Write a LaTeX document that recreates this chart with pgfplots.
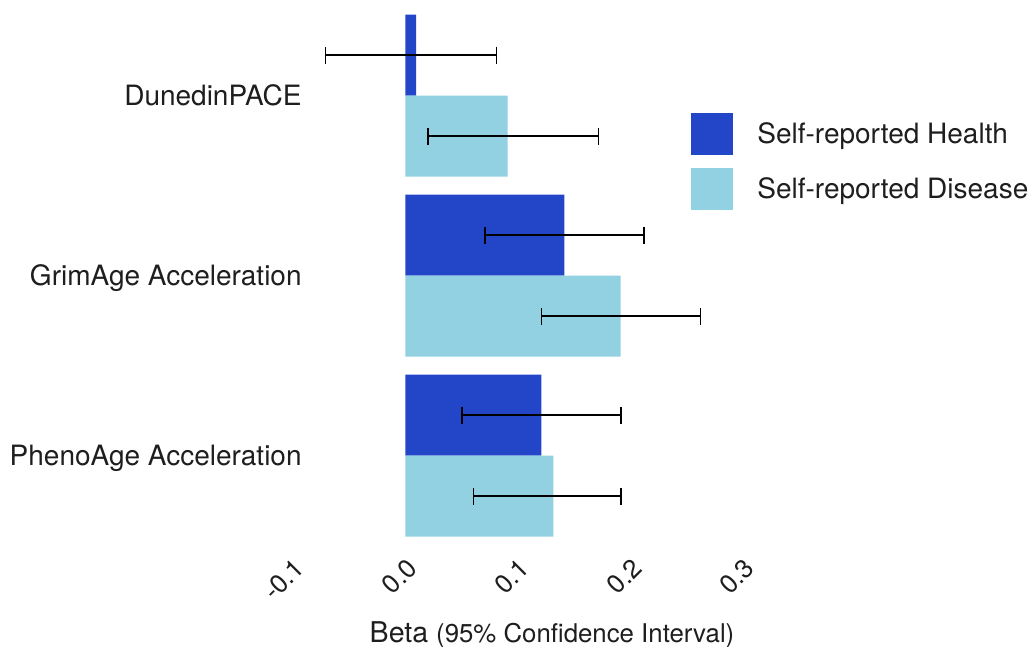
\documentclass[border=0pt]{standalone}
\usepackage{fontspec}
\setmainfont{TeX Gyre Heros}
\usepackage{pgfplots}
\pgfplotsset{compat=1.18}
\definecolor{health}{RGB}{35,69,200}
\definecolor{disease}{RGB}{145,209,225}
\definecolor{txt}{RGB}{30,30,30}
\begin{document}
\begin{tikzpicture}
\begin{axis}[
  name=ax,
  scale only axis,
  width=225pt, height=261pt,
  xmin=-0.1, xmax=0.3,
  ymin=-0.45, ymax=2.45,
  clip=false,
  axis line style={draw=none},
  major tick length=0pt,
  tick style={draw=none},
  xtick={-0.1,0,0.1,0.2,0.3},
  xticklabels={-0.1,0.0,0.1,0.2,0.3},
  ytick={0,1,2},
  yticklabels={PhenoAge Acceleration,GrimAge Acceleration,DunedinPACE},
  every tick label/.append style={text=txt},
  yticklabel style={font=\fontsize{14}{16}\selectfont, anchor=base east, inner sep=0pt, xshift=4.5pt, yshift=-5pt},
  xticklabel style={font=\fontsize{13}{15}\selectfont, yshift=-10pt, rotate=45, anchor=north east, inner sep=0pt},
  xlabel={\fontsize{14.3}{16}\selectfont Beta \fontsize{12.9}{15}\selectfont(95\% Confidence Interval)},
  xlabel style={at={(axis description cs:0.5756,0)}, anchor=base, yshift=-53pt, inner sep=0pt, text=txt},
  xbar, bar width=0.45, bar shift=0pt,
  legend style={at={(axis cs:0.2538,1.904)}, anchor=north west, draw=none, fill=none, inner sep=0pt,
    font=\fontsize{14}{16}\selectfont, text=txt, row sep=6.5pt, column sep=0pt,
    nodes={inner sep=0pt}},
  legend cell align=left,
  legend image code/.code={\fill[#1,draw=none] (0pt,-10.5pt) rectangle (21pt,10.5pt);},
  error bars/error bar style={black, line width=0.75pt},
  error bars/error mark options={black, line width=0.75pt, mark size=4.25pt, rotate=90},
]
\addplot[fill=health, draw=none,
  error bars/.cd, x dir=both, x explicit]
  coordinates {
  (0.0095,2.225) += (0.0712,0) -= (0.0804,0)
  (0.1412,1.225) += (0.0708,0) -= (0.0705,0)
  (0.1207,0.225) += (0.0709,0) -= (0.0705,0)
  };
\addlegendentry{\hspace{12pt}Self-reported Health}
\addplot[fill=disease, draw=none,
  error bars/.cd, x dir=both, x explicit]
  coordinates {
  (0.0908,1.775) += (0.0806,0) -= (0.0708,0)
  (0.1913,0.775) += (0.0711,0) -= (0.0702,0)
  (0.1314,-0.225) += (0.0602,0) -= (0.0708,0)
  };
\addlegendentry{\hspace{12pt}Self-reported Disease}
\end{axis}
\pgfresetboundingbox
\path ([xshift=-146.5pt, yshift=-55.15pt]ax.south west) rectangle ([xshift=146pt, yshift=7.35pt]ax.north east);
\end{tikzpicture}
\end{document}
